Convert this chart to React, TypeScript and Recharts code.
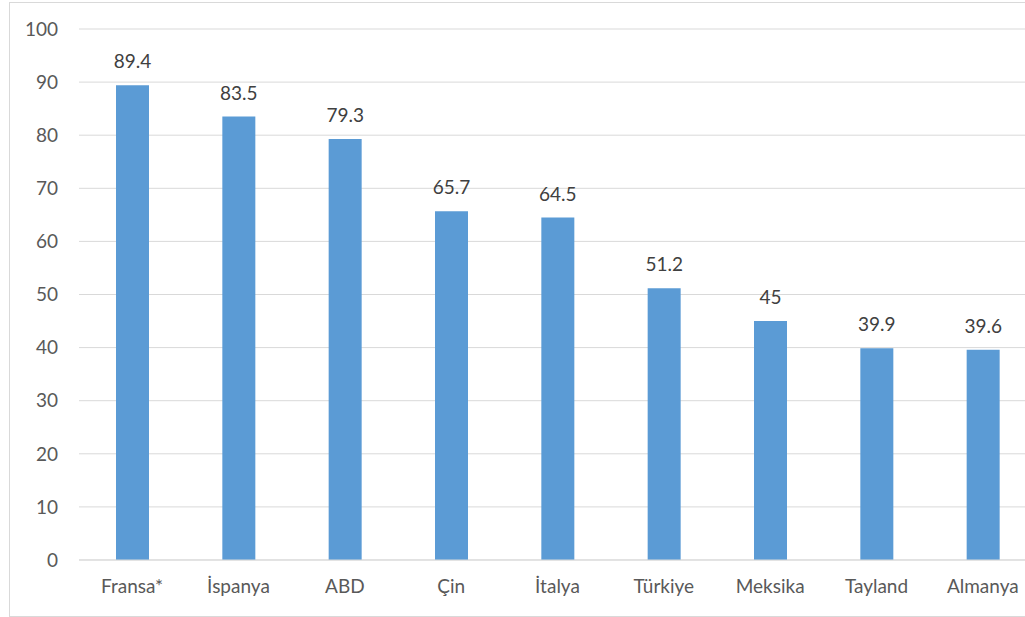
import React from 'react';
import { BarChart, Bar, XAxis, YAxis, CartesianGrid, LabelList } from 'recharts';

const countries = ['Fransa*', 'İspanya', 'ABD', 'Çin', 'İtalya', 'Türkiye', 'Meksika', 'Tayland', 'Almanya'];
const visitors = [89.4, 83.5, 79.3, 65.7, 64.5, 51.2, 45, 39.9, 39.6];
const yTicks = [0, 10, 20, 30, 40, 50, 60, 70, 80, 90, 100];

const chartData = countries.map((name, i) => ({ name, value: visitors[i] }));

const font = 'Lato, "Open Sans", sans-serif';

export default function App() {
  return (
    <div
      style={{
        position: 'fixed',
        left: 0,
        top: 0,
        width: 1025,
        height: 617,
        overflow: 'hidden',
        background: '#fff',
        fontFamily: font,
      }}
    >
      <div
        style={{
          position: 'absolute',
          left: 9,
          top: 2,
          width: 1100,
          height: 615,
          border: '1px solid #d9d9d9',
          boxSizing: 'border-box',
        }}
      />
      <div style={{ position: 'absolute', left: 0, top: 0 }}>
        <BarChart
          width={1041}
          height={617}
          data={chartData}
          margin={{ top: 29, right: 5, left: 0, bottom: 17 }}
        >
          <CartesianGrid vertical={false} stroke="#d9d9d9" />
          <XAxis
            dataKey="name"
            height={40}
            tickLine={false}
            axisLine={{ stroke: '#d9d9d9' }}
            tickMargin={14}
            tick={{ fontSize: 19, fill: '#595959', fontFamily: font }}
            interval={0}
          />
          <YAxis
            width={79}
            domain={[0, 100]}
            ticks={yTicks}
            axisLine={false}
            tickLine={false}
            tickMargin={15}
            tick={{ fontSize: 19, fill: '#595959', fontFamily: font }}
          />
          <Bar dataKey="value" fill="#5b9bd5" barSize={33} isAnimationActive={false}>
            <LabelList
              dataKey="value"
              position="top"
              offset={17}
              style={{ fontSize: 19, fill: '#404040', fontFamily: font }}
            />
          </Bar>
        </BarChart>
      </div>
    </div>
  );
}
